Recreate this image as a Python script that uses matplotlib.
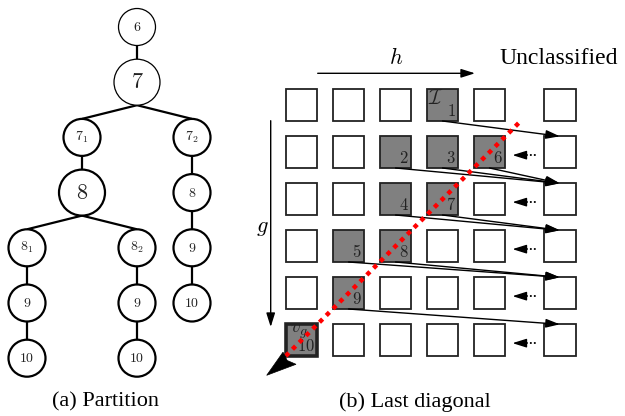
import matplotlib
matplotlib.use("Agg")
import matplotlib.pyplot as plt
from matplotlib.patches import Circle, Rectangle, Polygon
import numpy as np

plt.rcParams['mathtext.fontset'] = 'cm'
plt.rcParams['font.serif'] = ['Liberation Serif', 'Times New Roman', 'DejaVu Serif']

# ---------------- data ----------------
# Panel (a): partition tree
tree_labels = ['6', '7', '7_1', '7_2', '8', '8', '8_1', '8_2', '9', '9', '9', '10', '10', '10']
tree_parent = [None, 0, 1, 1, 2, 3, 4, 4, 5, 6, 7, 8, 9, 10]
tree_depth  = [0, 1, 2, 2, 3, 3, 4, 4, 4, 5, 5, 5, 6, 6]
tree_slot   = [2, 2, 1, 3, 1, 3, 0, 2, 3, 0, 2, 3, 0, 2]
tree_big    = [False, True, False, False, True, False, False, False, False, False, False, False, False, False]
tree_thin   = [True, True, False, False, False, False, False, False, False, False, False, False, False, False]

# Panel (b): grid of classified cells (number order -> (row, col))
cell_numbers = ['1', '2', '3', '4', '5', '6', '7', '8', '9', '10']
cell_rows    = [0, 1, 1, 2, 3, 1, 2, 3, 4, 5]
cell_cols    = [3, 2, 3, 2, 1, 4, 3, 2, 1, 0]
n_rows, n_cols = 6, 5          # classified grid + one "Unclassified" column
dotted_rows = [1, 2, 3, 4, 5]

# ---------------- layout ----------------
fig = plt.figure(figsize=(6.25, 4.16), dpi=100)
ax = fig.add_axes([0, 0, 1, 1])
ax.set_xlim(0, 625)
ax.set_ylim(416, 0)
ax.axis('off')

# tree geometry
x0, dx = 27.0, 55.0
y0, dy = 27.0, 55.2
r_small, r_big = 18.5, 23.0

def node_xy(i):
    return x0 + dx * tree_slot[i], y0 + dy * tree_depth[i]

def node_r(i):
    return r_big if tree_big[i] else r_small

for i, p in enumerate(tree_parent):
    if p is None:
        continue
    px, py = node_xy(p)
    cx, cy = node_xy(i)
    ax.plot([px, cx], [py + node_r(p), cy - node_r(i)], color='black', lw=1.6,
            solid_capstyle='butt', zorder=1)

for i, lab in enumerate(tree_labels):
    cx, cy = node_xy(i)
    lw = 0.9 if tree_thin[i] else 1.6
    ax.add_patch(Circle((cx, cy), node_r(i), facecolor='white', edgecolor='black', lw=lw, zorder=2))
    fs = 16 if tree_big[i] else 10
    ax.text(cx, cy, f'${lab}$', ha='center', va='center', fontsize=fs, color='#222222', zorder=3)

ax.text(106, 402, '(a) Partition', ha='center', va='center', fontsize=16,
        family='serif')

# grid geometry
gx0, gstep, gsize = 285.7, 47.0, 31.7
gy0 = 89.3
ucol_x = 544.0

def cell_left(c):
    return ucol_x if c >= n_cols else gx0 + gstep * c

def cell_top(r):
    return gy0 + gstep * r

shaded = {(r, c): num for r, c, num in zip(cell_rows, cell_cols, cell_numbers)}
last_key = (cell_rows[-1], cell_cols[-1])

for r in range(n_rows):
    for c in range(n_cols + 1):
        fill = '#808080' if (r, c) in shaded else 'white'
        lw = 2.6 if (r, c) == last_key else 1.3
        ax.add_patch(Rectangle((cell_left(c), cell_top(r)), gsize, gsize,
                               facecolor=fill, edgecolor='#222222', lw=lw, zorder=2))

for (r, c), num in shaded.items():
    ax.text(cell_left(c) + gsize - 2.5, cell_top(r) + gsize - 1, f'${num}$',
            ha='right', va='bottom', fontsize=12, color='#222222', zorder=4)

# special labels
r, c = cell_rows[0], cell_cols[0]
ax.text(cell_left(c) + 1, cell_top(r) - 1, r'$\mathcal{I}$', ha='left', va='top',
        fontsize=15, color='#222222', zorder=4)
r, c = last_key
ax.text(cell_left(c) + 4, cell_top(r) - 2.5, r'$v_g$', ha='left', va='top',
        fontsize=14, color='#222222', zorder=4)

# arrows from classified cells to the unclassified column
head = dict(arrowstyle='-|>,head_length=0.7,head_width=0.22', color='black', lw=1.0,
            shrinkA=0, shrinkB=0, mutation_scale=12)
for r, c in zip(cell_rows, cell_cols):
    if r + 1 >= n_rows:
        continue
    sx = cell_left(c) + gsize / 2
    sy = cell_top(r) + gsize
    ex = ucol_x + gsize / 2
    ey = cell_top(r + 1)
    ax.annotate('', xy=(ex, ey), xytext=(sx, sy), arrowprops=head, zorder=5)

# dotted left-pointing arrows
for r in dotted_rows:
    y = cell_top(r) + gsize / 2 + 3
    ax.plot([518, 536], [y, y], color='black', lw=1.3, linestyle=(0, (1, 1.2)), zorder=5)
    ax.annotate('', xy=(512.5, y), xytext=(519.5, y), arrowprops=head, zorder=5)

# h and g axes
ax.annotate('', xy=(475, 73.3), xytext=(317.7, 73.3), arrowprops=head)
ax.text(396, 58, '$h$', ha='center', va='center', fontsize=16)
ax.annotate('', xy=(270.7, 327), xytext=(270.7, 120.7), arrowprops=head)
ax.text(262, 228, '$g$', ha='center', va='center', fontsize=16)
ax.text(559, 58, 'Unclassified', ha='center', va='center', fontsize=17,
        family='serif')

# red dotted diagonal
ex0, ey0 = cell_left(0), cell_top(n_rows - 1) + gsize
ex1 = 520.0
ey1 = ey0 - (ex1 - ex0)
ax.plot([ex0, ex1], [ey0, ey1], color='red', lw=3.2, linestyle=(0, (1.0, 1.15)),
        solid_capstyle='butt', dash_capstyle='butt', zorder=6)

# big arrowhead at the lower-left end
E = np.array([ex0, ey0])
tri = np.array([E + (-19, 19.3), E + (-2.7, -3.8), E + (1.5, 4.5), E + (10.3, 8.3)])
ax.add_patch(Polygon(tri, closed=True, facecolor='black', edgecolor='black', lw=0.5, zorder=7))

ax.text(415, 402, '(b) Last diagonal', ha='center', va='center', fontsize=16,
        family='serif')

fig.savefig('out.png', dpi=100)
